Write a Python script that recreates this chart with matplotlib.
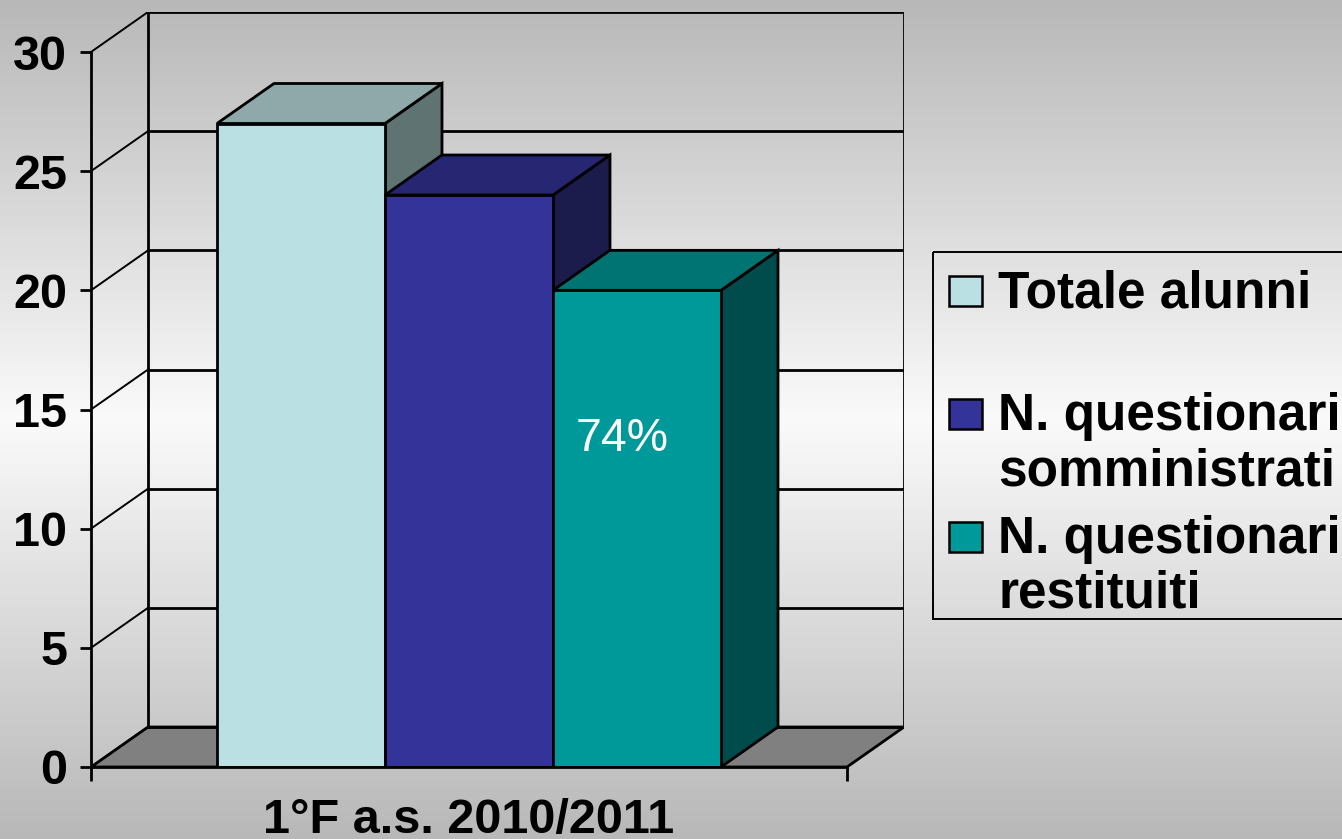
import numpy as np
import matplotlib
matplotlib.use("Agg")
import matplotlib.pyplot as plt
from matplotlib.patches import Polygon, Rectangle

plt.rcParams['font.family'] = ['Liberation Sans', 'DejaVu Sans']

# ---- data ----
category = "1°F a.s. 2010/2011"
series_names = ["Totale alunni", "N. questionari\nsomministrati", "N. questionari\nrestituiti"]
values = [27, 24, 20]
y_ticks = [0, 5, 10, 15, 20, 25, 30]

front_colors = ["#BAE0E3", "#333399", "#009999"]
top_colors = ["#8FA9AB", "#262673", "#007373"]
side_colors = ["#5F7373", "#1B1B4C", "#004C4C"]

W, H = 1342, 839
fig = plt.figure(figsize=(W / 100, H / 100), dpi=100)

# background vertical gradient
bg = fig.add_axes([0, 0, 1, 1], zorder=-10)
yy = np.linspace(0, 1, 400)
g = np.interp(yy, [0, 0.5, 1], [184, 250, 184]) / 255.0
img = np.repeat(g[:, None], 2, axis=1)
bg.imshow(np.dstack([img, img, img]), aspect='auto', extent=[0, 1, 0, 1], origin='lower')
bg.set_axis_off()

# main axes: front plane x in [0,1], y in value units
ax = fig.add_axes([91 / W, (H - 767) / H, (904 - 91) / W, (767 - 12) / H])
ax.patch.set_alpha(0)
px_per_x = 756.0
px_per_y = 715.0 / 30
dx = 57 / px_per_x
dy = 40 / px_per_y
ymax = 30
ax.set_xlim(0, 1 + dx)
ax.set_ylim(0, ymax + dy)

lw = 2.0
# floor
ax.add_patch(Polygon([(0, 0), (1, 0), (1 + dx, dy), (dx, dy)], closed=True,
                     facecolor="#808080", edgecolor="black", lw=lw, zorder=1))
# back wall gridlines and side wall diagonals
for v in y_ticks:
    ax.plot([dx, 1 + dx], [v + dy, v + dy], color="black", lw=lw, zorder=1,
            solid_capstyle="projecting")
    ax.plot([0, dx], [v, v + dy], color="black", lw=1.4, zorder=1)
ax.plot([dx, dx], [dy, ymax + dy], color="black", lw=lw, zorder=1)
ax.plot([1 + dx, 1 + dx], [dy, ymax + dy], color="black", lw=lw, zorder=1)

# bars
n = len(values)
group = 2 / 3
w = group / n
start = 0.5 - group / 2
for i, v in enumerate(values):
    x0 = start + i * w
    x1 = x0 + w
    z = 3 + i
    ax.add_patch(Polygon([(x1, 0), (x1 + dx, dy), (x1 + dx, v + dy), (x1, v)], closed=True,
                         facecolor=side_colors[i], edgecolor="black", lw=lw, zorder=z))
    ax.add_patch(Polygon([(x0, v), (x1, v), (x1 + dx, v + dy), (x0 + dx, v + dy)], closed=True,
                         facecolor=top_colors[i], edgecolor="black", lw=lw, zorder=z))
    ax.add_patch(Rectangle((x0, 0), w, v, facecolor=front_colors[i], edgecolor="black",
                           lw=lw, zorder=z))

# percentage label on last bar
pct = round(values[2] / values[0] * 100)
x_last = start + 2 * w + w / 2
ax.text(x_last - 0.02, 13.26, f"{pct}%", color="white", fontsize=33.5,
        ha="center", va="baseline", zorder=10)

# axes / ticks
for s in ["top", "right"]:
    ax.spines[s].set_visible(False)
ax.spines["left"].set_bounds(0, 30)
ax.spines["bottom"].set_bounds(0, 1)
ax.spines["left"].set_linewidth(lw)
ax.spines["bottom"].set_linewidth(lw)
ax.spines["left"].set_zorder(2)
ax.spines["bottom"].set_zorder(8)
ax.set_yticks(y_ticks)
ax.set_yticklabels([str(t) for t in y_ticks], fontsize=35, fontweight="bold")
ax.tick_params(axis="y", direction="out", length=8, width=lw, pad=9)
ax.set_xticks([0, 1])
ax.set_xticklabels(["", ""])
ax.tick_params(axis="x", which="major", direction="out", length=10, width=lw)
ax.set_xticks([0.5], minor=True)
ax.set_xticklabels([category], minor=True, fontsize=35, fontweight="bold")
ax.tick_params(axis="x", which="minor", length=0, pad=22)

# legend drawn in pixel space
lg = fig.add_axes([0, 0, 1, 1], zorder=20)
lg.set_xlim(0, W)
lg.set_ylim(H, 0)
lg.set_axis_off()
lg.patch.set_alpha(0)
lg.add_patch(Rectangle((933, 252), 460, 367, facecolor="none", edgecolor="black", lw=1.4))
entry_baselines = [307, 430, 553]
line_step = 55
for i, name in enumerate(series_names):
    b = entry_baselines[i]
    lg.add_patch(Rectangle((949, b - 31), 33, 30, facecolor=front_colors[i],
                           edgecolor="black", lw=1.8))
    for k, line in enumerate(name.split("\n")):
        lg.text(998, b + k * line_step, line, fontsize=37, fontweight="bold",
                ha="left", va="baseline")

fig.savefig("out.png", dpi=100)
